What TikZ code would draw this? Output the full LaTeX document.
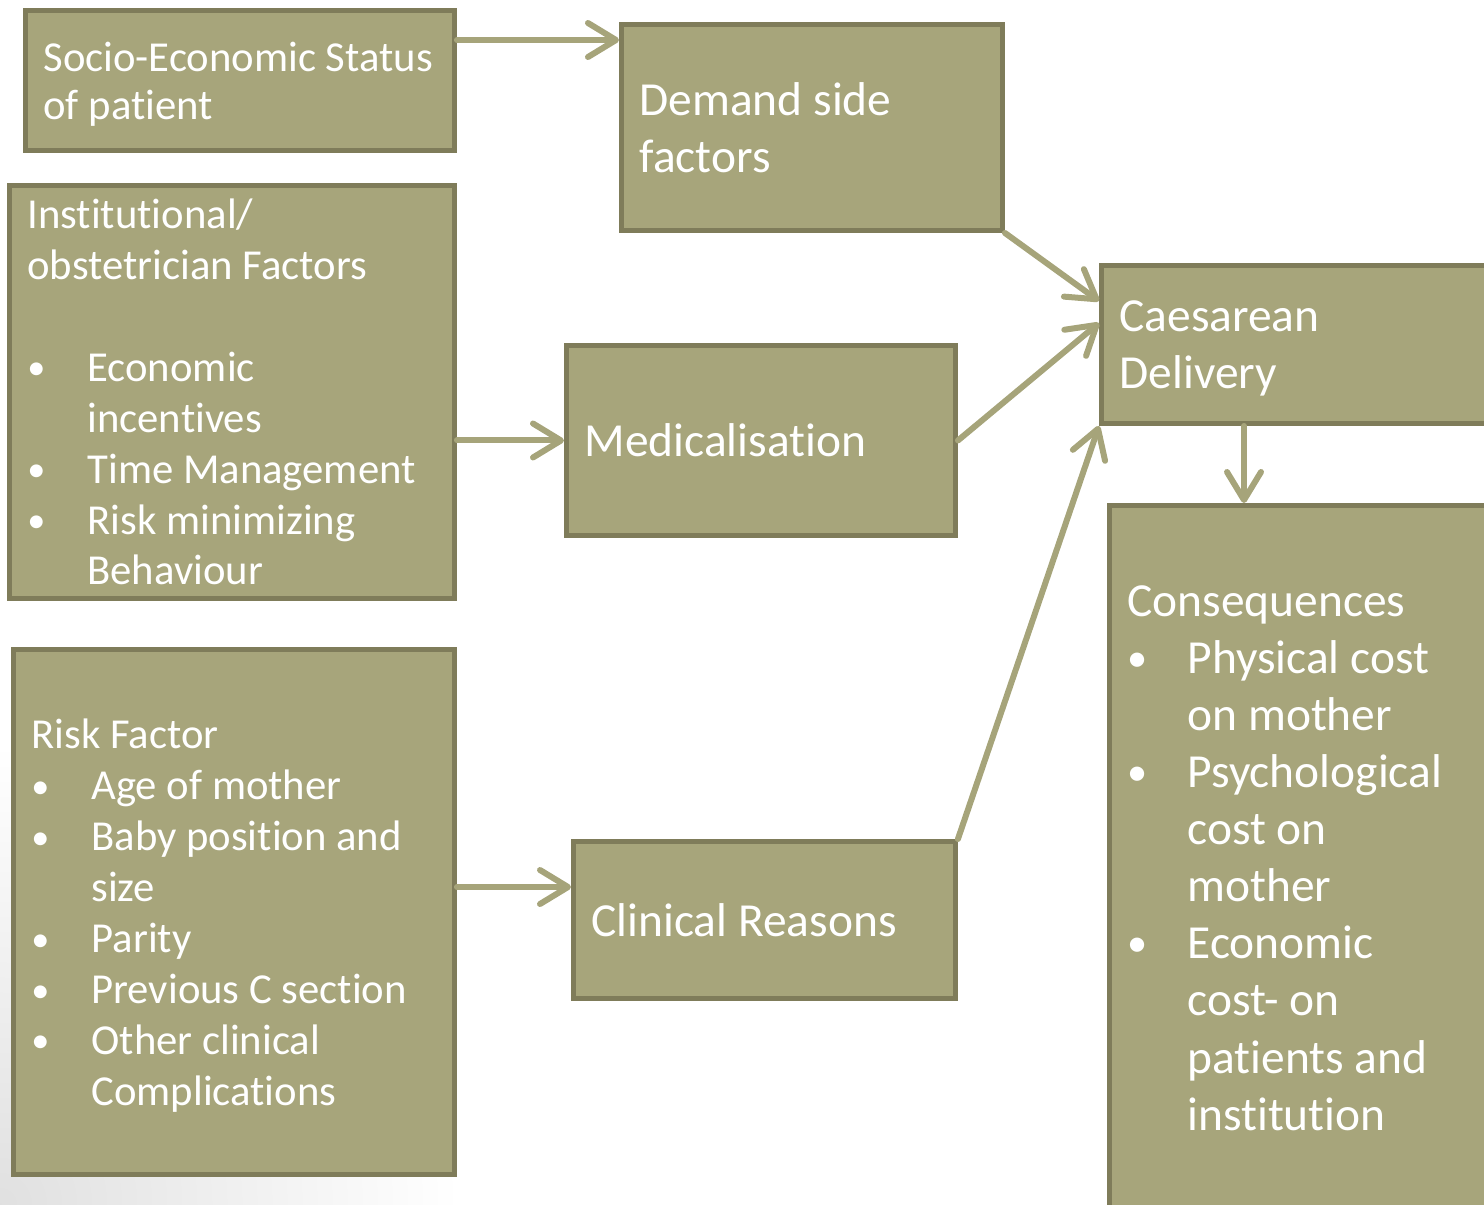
\documentclass[tikz,border=0pt]{standalone}
\usepackage{fontspec}
\setmainfont{Carlito}[Ligatures={NoCommon}]
\usetikzlibrary{calc,arrows.meta}
\definecolor{boxfill}{RGB}{167,165,123}
\definecolor{boxline}{RGB}{127,124,90}
\definecolor{arrowcol}{RGB}{166,164,122}
\newcommand{\bul}{\makebox[1.2cm][l]{\raisebox{0.04em}{\scalebox{0.85}{\textbullet}}}}
\newcommand{\cnt}{\hspace*{1.2cm}}
\newcommand{\toprule}[1]{\rule{0pt}{#1}}
\tikzset{
	box/.style={draw=boxline,fill=boxfill,line width=0.1cm,text=white,align=flush left,inner xsep=0.36cm,inner ysep=0pt,anchor=north west},
	arr/.style={draw=arrowcol,line width=0.12cm,line cap=round,-{Straight Barb[length=0.56cm,width=0.68cm,line cap=round,line join=round]}},
	smalltxt/.style={font=\fontsize{24.3pt}{29pt}\selectfont},
	bigtxt/.style={font=\fontsize{27pt}{32.5pt}\selectfont}
}
\begin{document}
\begin{tikzpicture}[x=0.02cm,y=-0.02cm]
		\useasboundingbox (0,0) rectangle (1484,1204);
		\clip (0,0) rectangle (1484,1204);
		\shade[inner color=black!12,outer color=white] (0,1204) circle (460);
		
		\node[box,text width=7.86cm,minimum height=2.8cm,font=\fontsize{24.3pt}{27.3pt}\selectfont] (ses) at (23,8) {\toprule{0.85em}Socio-Economic Status\\of patient};
		
		\node[box,bigtxt,text width=6.90cm,minimum height=4.12cm] (dem) at (619,22) {Demand side\\factors};
		
		\node[box,smalltxt,text width=8.18cm,minimum height=8.26cm] (inst) at (7,183) {Institutional/\\obstetrician Factors\\[29pt]\bul Economic\\\cnt incentives\\\bul Time Management\\\bul Risk minimizing\\\cnt Behaviour};
		
		\node[box,bigtxt,text width=7.06cm,minimum height=3.8cm] (med) at (564,343) {Medicalisation};
		
		\node[box,smalltxt,text width=8.10cm,minimum height=10.5cm] (risk) at (11,647) {\toprule{0.88em}Risk Factor\\\bul Age of mother\\\bul Baby position and\\\cnt size\\\bul Parity\\\bul Previous C section\\\bul Other clinical\\\cnt Complications};
		
		\node[box,bigtxt,text width=6.92cm,minimum height=3.14cm] (clin) at (571,839) {Clinical Reasons};
		
		\node[box,bigtxt,text width=7.68cm,minimum height=3.16cm] (cd) at (1099,263) {\toprule{0.82em}Caesarean\\Delivery};
		
		\node[box,bigtxt,text width=7.52cm,minimum height=14.1cm] (cons) at (1107,503) {Consequences\\\bul Physical cost\\\cnt on mother\\\bul Psychological\\\cnt cost on\\\cnt mother\\\bul Economic\\\cnt cost- on\\\cnt patients and\\\cnt institution};
		
		\coordinate (a1) at ($(ses.north east)+(0,32)$);
		\coordinate (a2) at ($(clin.north west)+(0,48)$);
		\coordinate (a3) at ($(cd.south west)+(145,0)$);
		
		\draw[arr] (a1) -- (a1 -| dem.west);
		\draw[arr] (inst.east |- med.west) -- (med.west);
		\draw[arr] (risk.east |- a2) -- (a2);
		\draw[arr] (dem.south east) -- ($(cd.north west)+(0,38)$);
		\draw[arr] (med.east) -- ($(cd.north west)+(0,60)$);
		\draw[arr] (clin.north east) -- (cd.south west);
		\draw[arr] (a3) -- (a3 |- cons.north);
	\end{tikzpicture}
\end{document}
